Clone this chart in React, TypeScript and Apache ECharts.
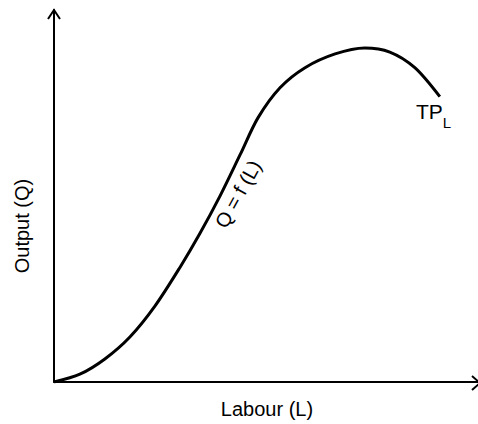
import React, { useEffect, useRef } from "react";
import * as echarts from "echarts";

const labour = [0, 0.61, 1.2, 1.79, 2.38, 2.97, 3.44, 3.92, 4.39, 4.81, 5.33, 5.92, 6.63, 7.33, 7.92, 8.51, 9.1];
const output = [0, 0.21, 0.62, 1.21, 2.04, 3.08, 3.99, 5.01, 6.11, 7.1, 7.91, 8.45, 8.82, 8.98, 8.87, 8.45, 7.67];

const xName = "Labour (L)";
const yName = "Output (Q)";
const curveLabel = "Q = f (L)";

export default function App() {
  const ref = useRef<HTMLDivElement>(null);
  useEffect(() => {
    if (!ref.current) return;
    const chart = echarts.init(ref.current, undefined, { renderer: "svg" });
    const font = "Arial, 'Liberation Sans', sans-serif";
    chart.setOption({
      animation: false,
      backgroundColor: "#fff",
      grid: { left: 54, right: 0, top: 10, bottom: 41 },
      xAxis: {
        type: "value",
        min: 0,
        max: 10,
        name: xName,
        nameLocation: "middle",
        nameGap: 17,
        nameTextStyle: { fontSize: 20, color: "#000", fontFamily: font, verticalAlign: "top", padding: [0, 0, 0, 2] },
        axisLine: { show: true, lineStyle: { color: "#000", width: 2 } },
        axisTick: { show: false },
        axisLabel: { show: false },
        splitLine: { show: false },
      },
      yAxis: {
        type: "value",
        min: 0,
        max: 10,
        axisLine: { show: true, lineStyle: { color: "#000", width: 2 } },
        axisTick: { show: false },
        axisLabel: { show: false },
        splitLine: { show: false },
      },
      series: [
        {
          type: "line",
          data: labour.map((x, i) => [x, output[i]]),
          smooth: 0.3,
          symbol: "none",
          lineStyle: { color: "#000", width: 3 },
        },
      ],
      graphic: [
        {
          type: "polyline",
          shape: { points: [[48, 19], [54, 10], [60, 19]] },
          style: { stroke: "#000", lineWidth: 2, fill: null },
        },
        {
          type: "polyline",
          shape: { points: [[472, 376], [480, 383], [472, 390]] },
          style: { stroke: "#000", lineWidth: 2, fill: null },
        },
        {
          type: "text",
          x: 22,
          y: 226,
          rotation: Math.PI / 2,
          style: {
            text: yName,
            font: `20px ${font}`,
            fill: "#000",
            align: "center",
            verticalAlign: "middle",
          },
        },
        {
          type: "text",
          x: 238,
          y: 194,
          rotation: (61 * Math.PI) / 180,
          style: {
            text: curveLabel,
            font: `20px ${font}`,
            fill: "#000",
            align: "center",
            verticalAlign: "middle",
          },
        },
        {
          type: "text",
          x: 416,
          y: 101,
          style: {
            text: "{a|TP}{b|L}",
            fill: "#000",
            rich: {
              a: { fontSize: 21, fontFamily: font, fill: "#000", verticalAlign: "top" },
              b: { fontSize: 15, fontFamily: font, fill: "#000", padding: [14, 0, 0, 0] },
            },
          },
        },
      ],
    });
    return () => chart.dispose();
  }, []);
  return (
    <div
      ref={ref}
      style={{ position: "absolute", left: 0, top: 0, width: 478, height: 424 }}
    />
  );
}
